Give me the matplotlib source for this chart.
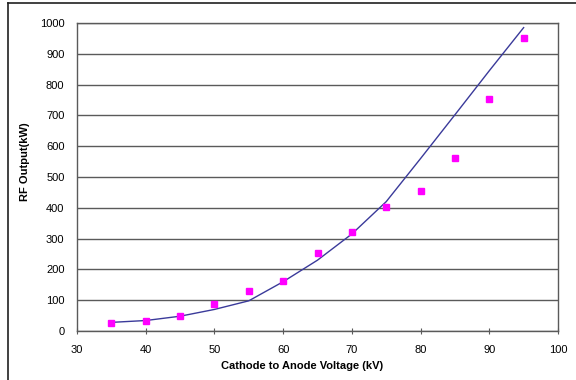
import matplotlib.pyplot as plt
from matplotlib.lines import Line2D

# measured points (magenta squares)
voltage_pts = [35, 40, 45, 50, 55, 60, 65, 70, 75, 80, 85, 90, 95]
rf_measured = [25, 34, 48, 87, 130, 161, 252, 320, 402, 455, 562, 752, 950]

# calculated curve (blue line)
voltage_calc = [35, 40, 45, 50, 55, 60, 65, 70, 75, 80, 85, 90, 95]
rf_calc = [28, 34, 48, 70, 98, 160, 230, 315, 420, 560, 702, 845, 985]

x_ticks = [30, 40, 50, 60, 70, 80, 90, 100]
y_ticks = list(range(0, 1001, 100))

plt.rcParams['font.family'] = ['Liberation Sans', 'DejaVu Sans']

fig = plt.figure(figsize=(5.76, 3.8), dpi=100)
ax = fig.add_axes([77 / 576, 49 / 380, 481 / 576, 308 / 380])

ax.plot(voltage_calc, rf_calc, color='#3a3a9a', lw=1.0, zorder=3)
ax.plot(voltage_pts, rf_measured, ls='none', marker='s', ms=4.2,
        color='#ff00ff', mec='#ff00ff', zorder=4)

ax.set_xlim(30, 100)
ax.set_ylim(0, 1000)
ax.set_xticks(x_ticks)
ax.set_yticks(y_ticks)
ax.yaxis.grid(True, color='#5a5a5a', lw=1.0)
ax.set_axisbelow(True)

ax.tick_params(axis='x', direction='inout', length=4, width=0.8,
               color='#5a5a5a', labelsize=8, pad=8)
ax.tick_params(axis='y', length=0, labelsize=8, pad=9)
for s in ax.spines.values():
    s.set_color('#5a5a5a')
    s.set_linewidth(1.0)

ax.set_xlabel('Cathode to Anode Voltage (kV)', fontsize=8, fontweight='bold')
ax.set_ylabel('RF Output(kW)', fontsize=8, fontweight='bold')
ax.xaxis.set_label_coords(0.468, -30 / 308, transform=ax.transAxes)
ax.yaxis.set_label_coords(-47 / 481, 0.55, transform=ax.transAxes)

# outer chart frame (partially cut off)
fig.add_artist(Line2D([8 / 576, 1], [1 - 3 / 380, 1 - 3 / 380],
                      transform=fig.transFigure, color='#202020', lw=1.2))
fig.add_artist(Line2D([8 / 576, 8 / 576], [0, 1 - 3 / 380],
                      transform=fig.transFigure, color='#202020', lw=1.2))

fig.savefig('out.png', dpi=100)
